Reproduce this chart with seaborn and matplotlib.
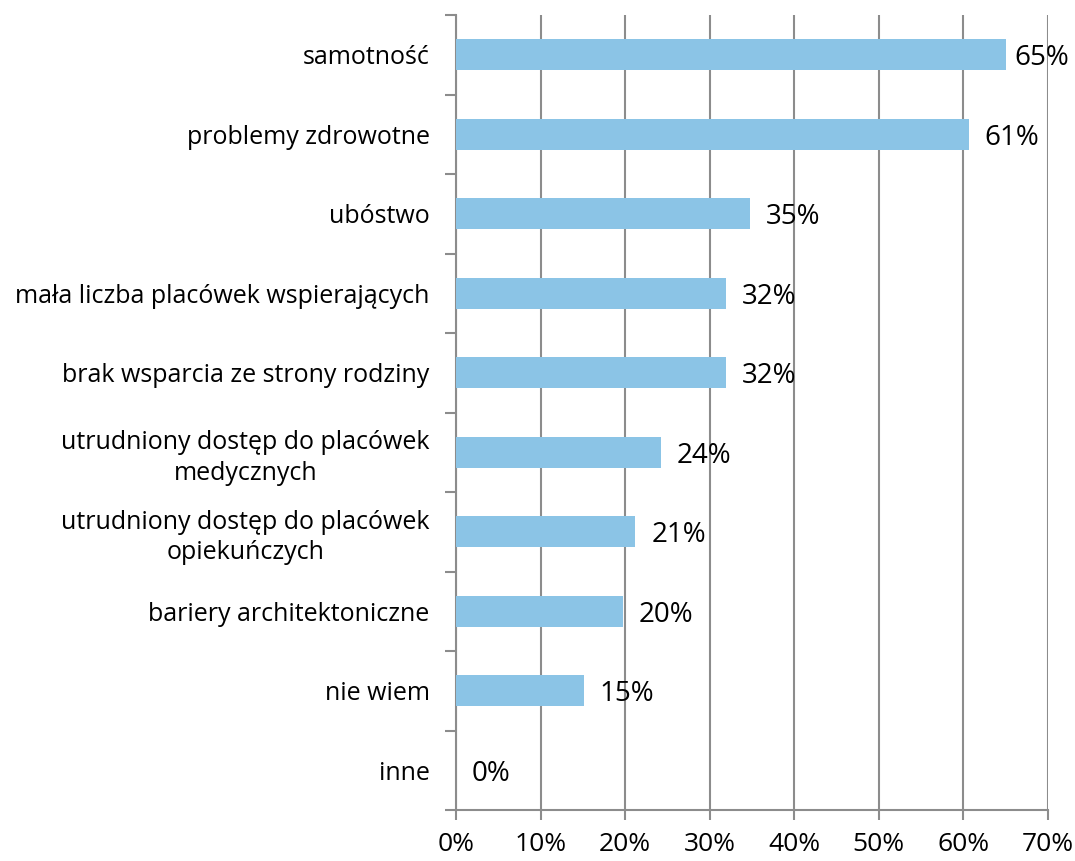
import matplotlib
matplotlib.use("Agg")
import matplotlib.pyplot as plt
import seaborn as sns
import pandas as pd
from matplotlib.ticker import MultipleLocator, FixedLocator, PercentFormatter

categories = [
    "samotność",
    "problemy zdrowotne",
    "ubóstwo",
    "mała liczba placówek wspierających",
    "brak wsparcia ze strony rodziny",
    "utrudniony dostęp do placówek\nmedycznych",
    "utrudniony dostęp do placówek\nopiekuńczych",
    "bariery architektoniczne",
    "nie wiem",
    "inne",
]
values = [65.0, 60.6, 34.8, 31.9, 31.9, 24.2, 21.2, 19.7, 15.1, 0.0]
labels = ["65%", "61%", "35%", "32%", "32%", "24%", "21%", "20%", "15%", "0%"]

sns.set_style("white")
plt.rcParams["font.family"] = ["Open Sans", "DejaVu Sans"]

df = pd.DataFrame({"cat": categories, "val": values})

W, H = 1075, 861
fig = plt.figure(figsize=(W / 100, H / 100), dpi=100)
ax = fig.add_axes([456 / W, 1 - 810 / H, (1048 - 456) / W, (810 - 15) / H])

sns.barplot(data=df, x="val", y="cat", orient="h", color="#8BC4E6",
            saturation=1, width=0.39, ax=ax, zorder=3, edgecolor="none", linewidth=0)

ax.set_xlim(0, 70)
ax.set_ylim(len(categories) - 0.5, -0.5)
ax.xaxis.set_major_locator(MultipleLocator(10))
ax.xaxis.set_major_formatter(PercentFormatter(decimals=0))
ax.grid(axis="x", color="#8c8c8c", linewidth=1.5, zorder=0)
ax.set_axisbelow(True)
ax.set_xlabel("")
ax.set_ylabel("")

for s in ["top", "right"]:
    ax.spines[s].set_visible(False)
for s in ["left", "bottom"]:
    ax.spines[s].set_color("#8c8c8c")
    ax.spines[s].set_linewidth(1.5)

ax.tick_params(axis="x", which="major", bottom=True, length=7, width=1.5, color="#8c8c8c",
               labelsize=19, pad=9, labelcolor="black")
ax.tick_params(axis="y", which="major", left=False, length=0, labelsize=18, pad=19,
               labelcolor="black")
ax.yaxis.set_minor_locator(FixedLocator([i - 0.5 for i in range(len(categories) + 1)]))
ax.tick_params(axis="y", which="minor", left=True, length=8, width=1.5, color="#8c8c8c")

for t in ax.get_yticklabels():
    t.set_multialignment("center")
    t.set_linespacing(1.3)

for i, (v, lab) in enumerate(zip(values, labels)):
    off = 16 if v < 62 else 9
    ax.annotate(lab, xy=(v, i), xytext=(off * 0.72, 0), textcoords="offset points",
                va="center_baseline", ha="left", fontsize=20, color="black", zorder=4)

fig.savefig("out.png", dpi=100)
